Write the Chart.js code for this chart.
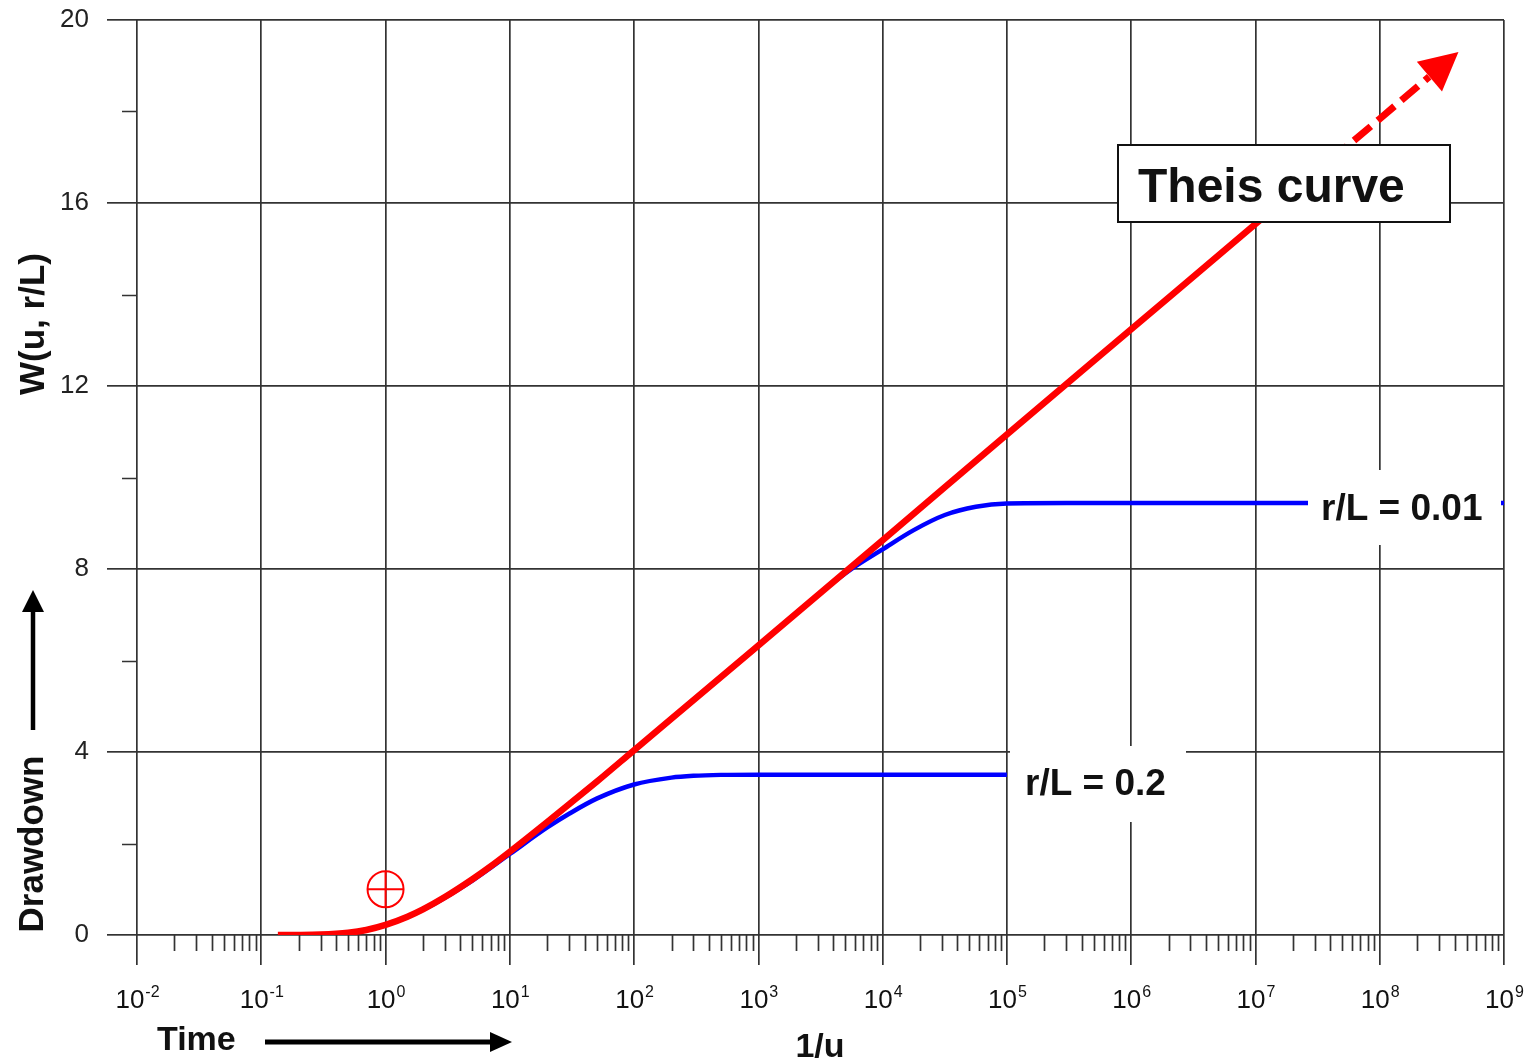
<!DOCTYPE html>
<html>
<head>
<meta charset="utf-8">
<title>Theis curve</title>
<script src="https://cdn.jsdelivr.net/npm/chart.js@4.4.1/dist/chart.umd.min.js"></script>
<style>
    html, body { margin: 0; padding: 0; background: #fff; }
    canvas { display: block; }
</style>
</head>
<body>
<canvas id="theisChart" width="1524" height="1061"></canvas>
<script>
// values: x = 1/u, y = W(u, r/L)
const theisX = [0.136, 0.2, 0.3, 0.5, 0.7, 1, 1.5, 2, 3, 5, 7, 10, 20, 30, 50, 100, 300, 1e3, 1e4, 1e5, 1e6, 1e7, 4e7];
const theisW = [0.0, 0.001, 0.009, 0.049, 0.11, 0.22, 0.40, 0.56, 0.83, 1.22, 1.50, 1.82, 2.47, 2.86, 3.35, 4.04, 5.13, 6.33, 8.63, 10.94, 13.24, 15.54, 16.93];

// dashed continuation + arrow tip
const theisDashX = [4e7, 1e8, 2.5e8];
const theisDashW = [16.93, 17.84, 18.76];
const arrowTip = [4.3e8, 19.30];

// leaky curve r/L = 0.2
const rl02X = [0.17, 0.3, 0.5, 1, 2, 5, 10, 20, 30, 50, 100, 200, 300, 500, 1e3, 1e4, 1e5];
const rl02W = [0.0, 0.009, 0.048, 0.216, 0.55, 1.19, 1.77, 2.35, 2.65, 2.98, 3.29, 3.44, 3.48, 3.50, 3.505, 3.505, 3.505];

// leaky curve r/L = 0.01
const rl001X = [0.17, 0.3, 0.5, 1, 2, 5, 10, 100, 1e3, 3162, 5623, 1e4, 17783, 31623, 56234, 1e5, 3e5, 1e6, 1e7, 1e8, 1e9];
const rl001W = [0.0, 0.009, 0.049, 0.219, 0.56, 1.22, 1.82, 4.04, 6.33, 7.48, 8.0, 8.43, 8.85, 9.18, 9.36, 9.43, 9.44, 9.44, 9.44, 9.44, 9.44];

// match point
const matchX = [1];
const matchW = [1.0];

// axes
const decadeExps = [-2, -1, 0, 1, 2, 3, 4, 5, 6, 7, 8, 9];
const yMinorTicks = [2, 6, 10, 14, 18];

const FONT = '"Liberation Sans", Arial, sans-serif';
const gridColor = "#333";
const textColor = "#111";

const toPts = (xs, ys) => xs.map((v, i) => ({ x: v, y: ys[i] }));

function arrow(ctx, x1, y1, x2, y2, width, headLen, headHalf) {
    const dx = x2 - x1, dy = y2 - y1;
    const len = Math.hypot(dx, dy);
    const ux = dx / len, uy = dy / len;
    const bx = x2 - ux * headLen, by = y2 - uy * headLen;
    ctx.lineWidth = width;
    ctx.beginPath();
    ctx.moveTo(x1, y1);
    ctx.lineTo(bx + ux * 2, by + uy * 2);
    ctx.stroke();
    ctx.beginPath();
    ctx.moveTo(x2, y2);
    ctx.lineTo(bx - uy * headHalf, by + ux * headHalf);
    ctx.lineTo(bx + uy * headHalf, by - ux * headHalf);
    ctx.closePath();
    ctx.fill();
}

const decor = {
    id: "decor",
    beforeDatasetsDraw(chart) {
        const { ctx, chartArea, scales: { x, y } } = chart;
        ctx.save();
        ctx.strokeStyle = gridColor;
        ctx.lineWidth = 1.7;
        ctx.beginPath();
        // minor log ticks under the x axis
        for (let e = -2; e < 9; e++) {
            for (let k = 2; k <= 9; k++) {
                const px = Math.round(x.getPixelForValue(k * Math.pow(10, e))) + 0.5;
                ctx.moveTo(px, chartArea.bottom);
                ctx.lineTo(px, chartArea.bottom + 16);
            }
        }
        // minor ticks on the y axis
        yMinorTicks.forEach(v => {
            const py = Math.round(y.getPixelForValue(v)) + 0.5;
            ctx.moveTo(chartArea.left - 15, py);
            ctx.lineTo(chartArea.left, py);
        });
        ctx.stroke();

        // x tick labels: 10 with superscript exponent
        ctx.fillStyle = textColor;
        ctx.textBaseline = "alphabetic";
        ctx.textAlign = "left";
        x.ticks.forEach(t => {
            const px = x.getPixelForValue(t.value);
            const exp = String(Math.round(Math.log10(t.value)));
            ctx.font = "26px " + FONT;
            const w1 = ctx.measureText("10").width;
            ctx.font = "16px " + FONT;
            const w2 = ctx.measureText(exp).width;
            const start = px - (w1 + w2) / 2;
            ctx.font = "26px " + FONT;
            ctx.fillText("10", start, 1008);
            ctx.font = "16px " + FONT;
            ctx.fillText(exp, start + w1 + 1, 997);
        });
        ctx.restore();
    },
    afterDatasetsDraw(chart) {
        const { ctx, scales: { x, y } } = chart;
        ctx.save();

        // arrow head at the end of the dashed Theis line
        const last = theisDashX.length - 1;
        const bx = x.getPixelForValue(theisDashX[last]);
        const by = y.getPixelForValue(theisDashW[last]);
        const tx = x.getPixelForValue(arrowTip[0]);
        const ty = y.getPixelForValue(arrowTip[1]);
        const dx = tx - bx, dy = ty - by;
        const len = Math.hypot(dx, dy);
        const ux = dx / len, uy = dy / len;
        const hx = tx - ux * 38, hy = ty - uy * 38;
        ctx.fillStyle = "#ff0000";
        ctx.beginPath();
        ctx.moveTo(tx, ty);
        ctx.lineTo(hx - uy * 19.5, hy + ux * 19.5);
        ctx.lineTo(hx + uy * 19.5, hy - ux * 19.5);
        ctx.closePath();
        ctx.fill();

        // curve labels on white patches
        ctx.fillStyle = "#fff";
        ctx.fillRect(1308, 470, 193, 75);
        ctx.fillRect(1010, 746, 176, 76);

        ctx.fillStyle = textColor;
        ctx.textAlign = "left";
        ctx.textBaseline = "alphabetic";
        ctx.font = "bold 37px " + FONT;
        ctx.fillText("r/L = 0.01", 1321, 520);
        ctx.fillText("r/L = 0.2", 1025, 795);

        // Theis curve box
        ctx.fillStyle = "#fff";
        ctx.fillRect(1117, 144, 333, 78);
        ctx.strokeStyle = "#111";
        ctx.lineWidth = 2;
        ctx.strokeRect(1118, 145, 332, 77);
        ctx.fillStyle = textColor;
        ctx.font = "bold 48px " + FONT;
        ctx.fillText("Theis curve", 1138, 202);

        // axis titles
        ctx.font = "bold 34px " + FONT;
        ctx.fillText("Time", 157, 1050);
        ctx.textAlign = "center";
        ctx.fillText("1/u", 820, 1057);

        ctx.save();
        ctx.translate(44, 324);
        ctx.rotate(-Math.PI / 2);
        ctx.font = "bold 35px " + FONT;
        ctx.fillText("W(u, r/L)", 0, 0);
        ctx.restore();

        ctx.save();
        ctx.translate(43, 844);
        ctx.rotate(-Math.PI / 2);
        ctx.font = "bold 35px " + FONT;
        ctx.fillText("Drawdown", 0, 0);
        ctx.restore();

        // direction arrows
        ctx.strokeStyle = "#000";
        ctx.fillStyle = "#000";
        arrow(ctx, 265, 1042, 512, 1042, 5, 22, 10);
        arrow(ctx, 33, 730, 33, 590, 4.5, 22, 11);

        ctx.restore();
    }
};

new Chart(document.getElementById("theisChart"), {
    type: "line",
    data: {
        datasets: [
            {
                label: "Match point ring",
                data: toPts(matchX, matchW),
                showLine: false,
                pointStyle: "circle",
                pointRadius: 18,
                pointBorderWidth: 2,
                pointBorderColor: "#ff0000",
                pointBackgroundColor: "rgba(0,0,0,0)"
            },
            {
                label: "Match point cross",
                data: toPts(matchX, matchW),
                showLine: false,
                pointStyle: "cross",
                pointRadius: 18,
                pointBorderWidth: 2,
                pointBorderColor: "#ff0000"
            },
            {
                label: "Theis",
                data: toPts(theisX, theisW),
                borderColor: "#ff0000",
                borderWidth: 6.5,
                pointRadius: 0,
                cubicInterpolationMode: "monotone"
            },
            {
                label: "Theis (extended)",
                data: toPts(theisDashX, theisDashW),
                borderColor: "#ff0000",
                borderWidth: 7,
                borderDash: [22, 9],
                pointRadius: 0
            },
            {
                label: "r/L = 0.2",
                data: toPts(rl02X, rl02W),
                borderColor: "#0000ff",
                borderWidth: 4.5,
                pointRadius: 0,
                cubicInterpolationMode: "monotone"
            },
            {
                label: "r/L = 0.01",
                data: toPts(rl001X, rl001W),
                borderColor: "#0000ff",
                borderWidth: 4.5,
                pointRadius: 0,
                cubicInterpolationMode: "monotone"
            }
        ]
    },
    options: {
        responsive: false,
        devicePixelRatio: 1,
        animation: false,
        layout: { padding: { top: 20, right: 18, left: 0, bottom: 0 } },
        plugins: {
            legend: { display: false },
            tooltip: { enabled: false }
        },
        scales: {
            x: {
                type: "logarithmic",
                min: 0.01,
                max: 1e9,
                afterBuildTicks: s => { s.ticks = decadeExps.map(e => ({ value: Math.pow(10, e) })); },
                afterFit: s => { s.height = 126; },
                grid: { color: gridColor, lineWidth: 1.7, tickLength: 30, tickColor: gridColor },
                border: { display: false },
                ticks: { display: false }
            },
            y: {
                min: 0,
                max: 20,
                // fixed left margin; drop the extra label padding so the plot starts at the top margin
                afterFit: s => { s.width = 137; s.paddingTop = 0; s.paddingBottom = 0; },
                grid: { color: gridColor, lineWidth: 1.7, tickLength: 30, tickColor: gridColor },
                border: { display: false },
                ticks: {
                    stepSize: 4,
                    padding: 18,
                    color: "#222",
                    font: { family: FONT, size: 26 }
                }
            }
        }
    },
    plugins: [decor]
});
</script>
</body>
</html>
